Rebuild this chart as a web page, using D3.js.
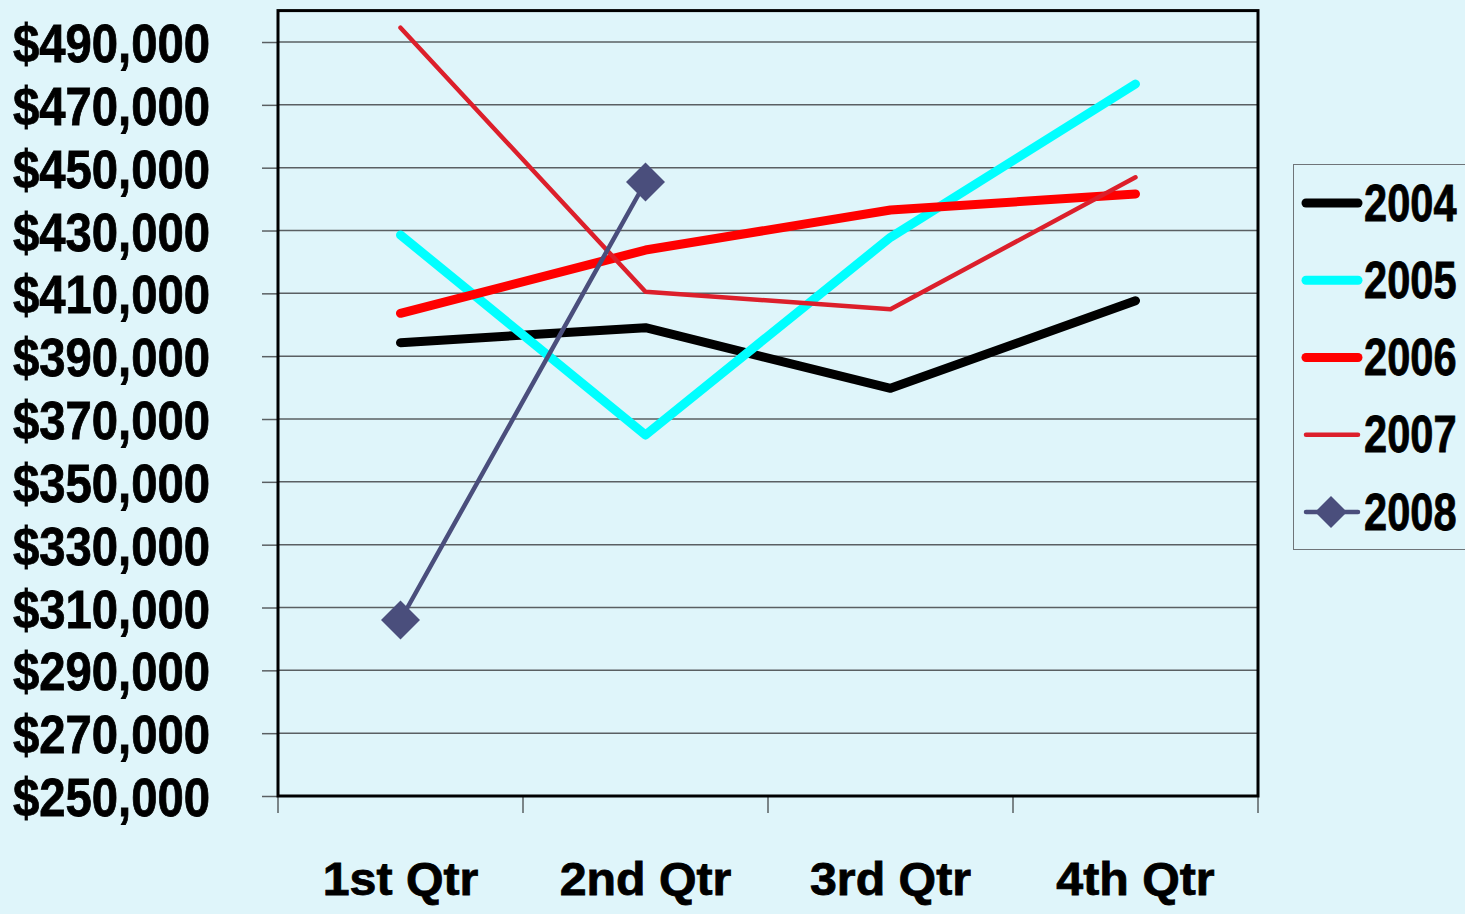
<!DOCTYPE html>
<html>
<head>
<meta charset="utf-8">
<script src="https://cdn.jsdelivr.net/npm/d3@7"></script>
<style>
  html, body { margin: 0; padding: 0; background: #DFF5FA; }
  svg { display: block; }
  text { font-family: "Liberation Sans", Arial, sans-serif; font-weight: bold; fill: #000; stroke: #000; stroke-width: 0.8px; }
</style>
</head>
<body>
<svg id="chart" width="1465" height="914"></svg>
<script>
const categories = ["1st Qtr", "2nd Qtr", "3rd Qtr", "4th Qtr"];
const years = ["2004", "2005", "2006", "2007", "2008"];
const values2004 = [394300, 399060, 379770, 407660];
const values2005 = [428570, 364910, 427830, 476630];
const values2006 = [403640, 423790, 436520, 441620];
const values2007 = [494550, 410520, 404920, 446930];
const values2008 = [306020, 445440];
const yTicks = [250000, 270000, 290000, 310000, 330000, 350000, 370000, 390000, 410000, 430000, 450000, 470000, 490000];

const seriesStyle = {
  "2004": { color: "#000000", width: 9, marker: false },
  "2005": { color: "#00FFFF", width: 9, marker: false },
  "2006": { color: "#FF0000", width: 9, marker: false },
  "2007": { color: "#DC1F2B", width: 4.5, marker: false },
  "2008": { color: "#4A4E7C", width: 4.5, marker: true }
};
const seriesData = {
  "2004": values2004, "2005": values2005, "2006": values2006,
  "2007": values2007, "2008": values2008
};

const svg = d3.select("#chart");
const plot = { left: 278, right: 1258, top: 10.6, bottom: 796 };

const x = d3.scaleBand().domain(categories).range([plot.left, plot.right]).padding(0);
const y = d3.scaleLinear().domain([250000, 500000]).range([plot.bottom, plot.top]);
const cx = c => x(c) + x.bandwidth() / 2;

// gridlines
svg.append("g").selectAll("line").data(yTicks.slice(1)).join("line")
  .attr("x1", plot.left).attr("x2", plot.right)
  .attr("y1", d => y(d)).attr("y2", d => y(d))
  .attr("stroke", "#5A5F62").attr("stroke-width", 1.5);

// y axis (ticks + labels)
const fmt = d => "$" + d3.format(",")(d);
const yAxis = d3.axisLeft(y).tickValues(yTicks).tickFormat(fmt).tickSize(16);
const yg = svg.append("g").attr("transform", `translate(${plot.left},0)`).call(yAxis);
yg.select(".domain").remove();
yg.selectAll(".tick line").attr("stroke", "#5A5F62").attr("stroke-width", 1.5);
yg.selectAll(".tick text")
  .attr("x", null).attr("dy", null)
  .attr("transform", `translate(${210 - plot.left},19.5) scale(0.875,1)`)
  .attr("text-anchor", "end")
  .attr("font-size", 54)
  .attr("font-family", '"Liberation Sans", Arial, sans-serif')
  .attr("font-weight", "bold").attr("fill", "#000");

// x axis ticks
const xTickPositions = categories.map(c => x(c)).concat([plot.right]);
svg.append("g").selectAll("line").data(xTickPositions).join("line")
  .attr("x1", d => d).attr("x2", d => d)
  .attr("y1", plot.bottom).attr("y2", plot.bottom + 17)
  .attr("stroke", "#5A5F62").attr("stroke-width", 1.5);
// x labels
svg.append("g").selectAll("text").data(categories).join("text")
  .attr("transform", d => `translate(${cx(d)},895) scale(1.05,1)`)
  .attr("text-anchor", "middle").attr("font-size", 46).text(d => d);

// frame
svg.append("rect").attr("x", plot.left).attr("y", plot.top)
  .attr("width", plot.right - plot.left).attr("height", plot.bottom - plot.top)
  .attr("fill", "none").attr("stroke", "#000").attr("stroke-width", 3);

// lines
const line = d3.line().x((d, i) => cx(categories[i])).y(d => y(d));
const diamond = size => d3.symbol(d3.symbolSquare, size);
years.forEach(yr => {
  const st = seriesStyle[yr];
  svg.append("path").datum(seriesData[yr]).attr("d", line)
    .attr("fill", "none").attr("stroke", st.color).attr("stroke-width", st.width)
    .attr("stroke-linecap", "round").attr("stroke-linejoin", "round");
  if (st.marker) {
    svg.append("g").selectAll("path").data(seriesData[yr]).join("path")
      .attr("d", diamond(760))
      .attr("transform", (d, i) => `translate(${cx(categories[i])},${y(d)}) rotate(45)`)
      .attr("fill", st.color);
  }
});

// legend
const lg = svg.append("g");
lg.append("rect").attr("x", 1293.5).attr("y", 164.5).attr("width", 185).attr("height", 385)
  .attr("fill", "none").attr("stroke", "#6F7478").attr("stroke-width", 1);
const legendY = d3.scalePoint().domain(years).range([203, 512]);
years.forEach(yr => {
  const st = seriesStyle[yr];
  const cy = legendY(yr);
  lg.append("line").attr("x1", 1306).attr("x2", 1358).attr("y1", cy).attr("y2", cy)
    .attr("stroke", st.color).attr("stroke-width", st.width).attr("stroke-linecap", "round");
  if (st.marker) {
    lg.append("path").attr("d", diamond(510))
      .attr("transform", `translate(1331,${cy}) rotate(45)`).attr("fill", st.color);
  }
  lg.append("text").attr("transform", `translate(1364,${cy + 17.5}) scale(0.8,1)`)
    .attr("font-size", 52).text(yr);
});
</script>
</body>
</html>
